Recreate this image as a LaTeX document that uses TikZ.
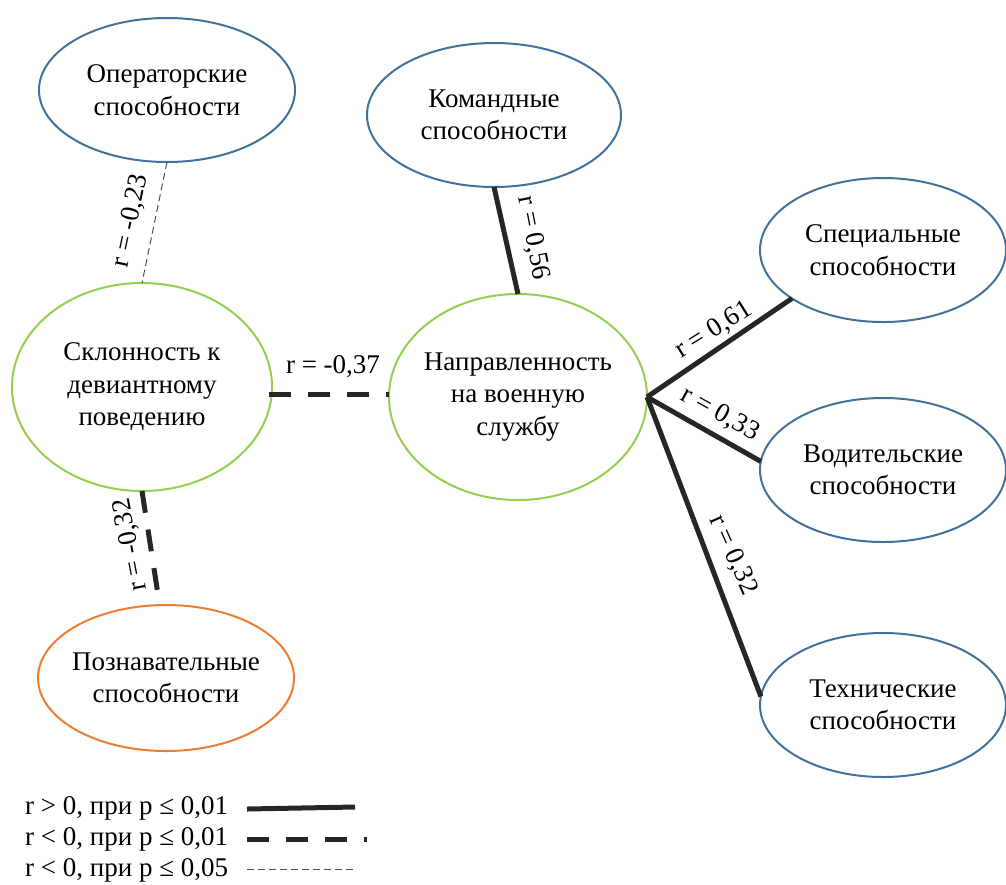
\documentclass[tikz,border=0pt]{standalone}
\usepackage{fontspec}
\setmainfont{Liberation Serif}
\usetikzlibrary{shapes.geometric}
\definecolor{eblue}{HTML}{41719C}
\definecolor{egreen}{HTML}{92D050}
\definecolor{eorange}{HTML}{ED7D31}
\definecolor{lnk}{HTML}{262626}
\begin{document}
\begin{tikzpicture}[x=1pt,y=1pt,
  every node/.style={font=\fontsize{27}{32.5}\selectfont, text=black},
  oval/.style={ellipse, draw, line width=2pt, inner xsep=-35pt, inner ysep=0pt, outer sep=0pt, align=center},
  blueoval/.style={oval, draw=eblue, minimum width=256pt, minimum height=144pt},
  sideoval/.style={oval, draw=eblue, minimum width=246pt, minimum height=144pt},
  greenoval/.style={oval, draw=egreen},
  orangeoval/.style={oval, draw=eorange, minimum width=256pt, minimum height=146pt},
  posline/.style={draw=lnk, line width=5pt},
  negstrong/.style={draw=lnk, line width=5pt, dash pattern=on 22pt off 17pt},
  negweak/.style={draw=lnk!80, line width=1pt, dash pattern=on 7pt off 4pt},
  lbl/.style={inner sep=0pt}
]
\useasboundingbox (0,0) rectangle (1006,-884);

% ellipses
\node[blueoval] (oper) at (167,-90) {Операторские\\способности};
\node[blueoval, minimum width=254pt] (kom) at (494,-115) {Командные\\способности};
\node[sideoval] (spec) at (883,-250) {Специальные\\способности};
\node[greenoval, minimum width=260pt, minimum height=208pt] (skl) at (142,-387) {Склонность к\\девиантному\\поведению};
\node[greenoval, minimum width=258pt, minimum height=206pt] (napr) at (518,-397) {Направленность\\на военную\\службу};
\node[sideoval] (vod) at (883,-470) {Водительские\\способности};
\node[orangeoval] (pozn) at (166,-678) {Познавательные\\способности};
\node[sideoval] (tech) at (883,-705) {Технические\\способности};

% connectors
\draw[negweak] (oper.south) -- (skl.north);
\draw[posline] (kom.south) -- (napr.north);
\draw[negstrong] ([xshift=-3pt]skl.east |- 0,-394) -- (napr.west |- 0,-394);
\draw[negstrong, shorten >=7pt] (skl.south) -- (pozn.95);
\draw[posline] (napr.east) -- (spec.208);
\draw[posline] (napr.east) -- (vod.176);
\draw[posline] (napr.east) -- (tech.176);

% connector labels
\node[lbl, rotate=78] (l1) at (131,-221) {r = -0,23};
\node[lbl, rotate=-79] (l2) at (533,-238) {r = 0,56};
\node[lbl] (l3) at (333,-367) {r = -0,37};
\node[lbl, rotate=101] (l4) at (131,-545) {r = -0,32};
\node[lbl, rotate=32] (l5) at (714,-330) {r = 0,61};
\node[lbl, rotate=-29] (l6) at (720,-414) {r = 0,33};
\node[lbl, rotate=-66] (l7) at (733,-555) {r = 0,32};

% legend
\node[lbl, anchor=west] (t1) at (25,-808) {r > 0, при p ≤ 0,01};
\node[lbl, anchor=west] (t2) at (25,-839) {r < 0, при p ≤ 0,01};
\node[lbl, anchor=west] (t3) at (25,-870) {r < 0, при p ≤ 0,05};
\coordinate (a1) at (247,-809);
\coordinate (b1) at (355,-807);
\coordinate (a2) at (247,-839);
\coordinate (b2) at (367,-839);
\coordinate (a3) at (247,-869);
\coordinate (b3) at (355,-869);
\draw[posline] (a1) -- (b1);
\draw[negstrong] (a2) -- (b2);
\draw[negweak] (a3) -- (b3);
\end{tikzpicture}
\end{document}
